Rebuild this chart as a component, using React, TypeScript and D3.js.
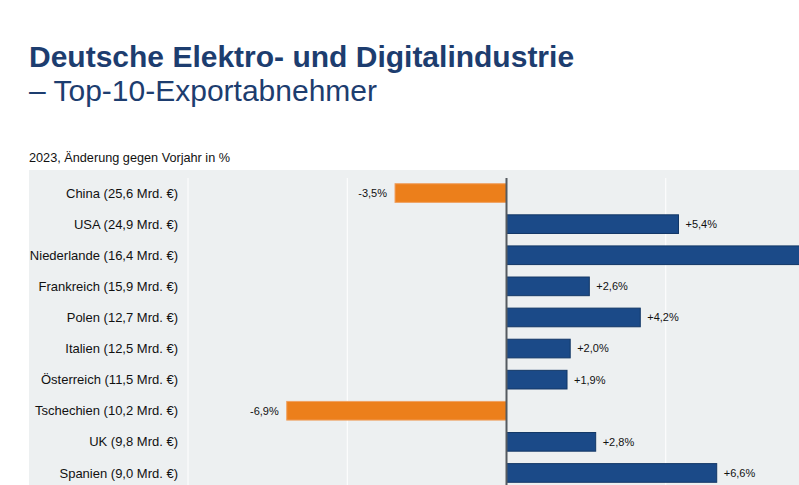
import { useEffect, useRef } from 'react'
import * as d3 from 'd3'

// Top-10 export customers, 2023, change vs previous year in %
const countries = [
    'China (25,6 Mrd. €)',
    'USA (24,9 Mrd. €)',
    'Niederlande (16,4 Mrd. €)',
    'Frankreich (15,9 Mrd. €)',
    'Polen (12,7 Mrd. €)',
    'Italien (12,5 Mrd. €)',
    'Österreich (11,5 Mrd. €)',
    'Tschechien (10,2 Mrd. €)',
    'UK (9,8 Mrd. €)',
    'Spanien (9,0 Mrd. €)'
]
const changes = [-3.5, 5.4, 10.6, 2.6, 4.2, 2.0, 1.9, -6.9, 2.8, 6.6]
const gridTicks = [-10, -5, 5, 10]

const width = 799
const height = 485
const blue = '#1b4a88'
const orange = '#ec7f1b'

const fmt = (v: number) => (v > 0 ? '+' : '') + v.toFixed(1).replace('.', ',') + '%'

export default function App() {
    const svgRef = useRef<SVGSVGElement>(null)

    useEffect(() => {
        if (!svgRef.current) return
        document.body.style.margin = '0'

        const svg = d3.select(svgRef.current)
        svg.selectAll('*').remove()

        const font = 'Liberation Sans, Arial, sans-serif'

        // Title
        svg.append('text')
            .attr('x', 29).attr('y', 67)
            .style('font-family', font)
            .style('font-size', '30px')
            .style('font-weight', 'bold')
            .style('fill', '#1d3d6f')
            .text('Deutsche Elektro- und Digitalindustrie')

        svg.append('text')
            .attr('x', 29).attr('y', 101)
            .style('font-family', font)
            .style('font-size', '30px')
            .style('fill', '#1d3d6f')
            .text('– Top-10-Exportabnehmer')

        svg.append('text')
            .attr('x', 29).attr('y', 162)
            .style('font-family', font)
            .style('font-size', '12.7px')
            .style('fill', '#111')
            .text('2023, Änderung gegen Vorjahr in %')

        // Panel background
        svg.append('rect')
            .attr('x', 29).attr('y', 170)
            .attr('width', width - 29).attr('height', height - 170)
            .attr('fill', '#edf0f1')

        const x = d3.scaleLinear().domain([-10, 10]).range([188, 825])
        const y = d3.scaleBand<string>()
            .domain(countries)
            .range([177.5, 488.5])
            .paddingInner(0.4)
            .paddingOuter(0.2)

        // Grid lines
        svg.append('g')
            .selectAll('line')
            .data(gridTicks)
            .enter()
            .append('line')
            .attr('x1', d => x(d)).attr('x2', d => x(d))
            .attr('y1', 178).attr('y2', height)
            .attr('stroke', '#ffffff')
            .attr('stroke-width', 1)

        const rows = svg.append('g')
            .selectAll('g')
            .data(countries.map((c, i) => ({ country: c, value: changes[i] })))
            .enter()
            .append('g')

        // Bars
        rows.append('rect')
            .attr('x', d => x(Math.min(0, d.value)))
            .attr('y', d => y(d.country)!)
            .attr('width', d => Math.abs(x(d.value) - x(0)))
            .attr('height', y.bandwidth())
            .attr('fill', d => (d.value < 0 ? orange : blue))
            .attr('stroke', d => (d.value < 0 ? '#f0a060' : '#123766'))
            .attr('stroke-width', 1)

        // Value labels (the chart is cropped at the right edge, so labels beyond it are not shown)
        rows.filter(d => x(d.value) + 7 < width)
            .append('text')
            .attr('x', d => (d.value < 0 ? x(d.value) - 8 : x(d.value) + 7))
            .attr('y', d => y(d.country)! + y.bandwidth() / 2)
            .attr('dy', '0.35em')
            .style('text-anchor', d => (d.value < 0 ? 'end' : 'start'))
            .style('font-family', font)
            .style('font-size', '11px')
            .style('fill', '#111')
            .text(d => fmt(d.value))

        // Category labels
        rows.append('text')
            .attr('x', 178)
            .attr('y', d => y(d.country)! + y.bandwidth() / 2)
            .attr('dy', '0.35em')
            .style('text-anchor', 'end')
            .style('font-family', font)
            .style('font-size', '13px')
            .style('fill', '#111')
            .text(d => d.country)

        // Zero line
        svg.append('line')
            .attr('x1', x(0)).attr('x2', x(0))
            .attr('y1', 178).attr('y2', height)
            .attr('stroke', '#555a60')
            .attr('stroke-width', 2)
    }, [])

    return (
        <svg ref={svgRef} width={width} height={height} style={{ display: 'block', background: '#fff' }}></svg>
    )
}
